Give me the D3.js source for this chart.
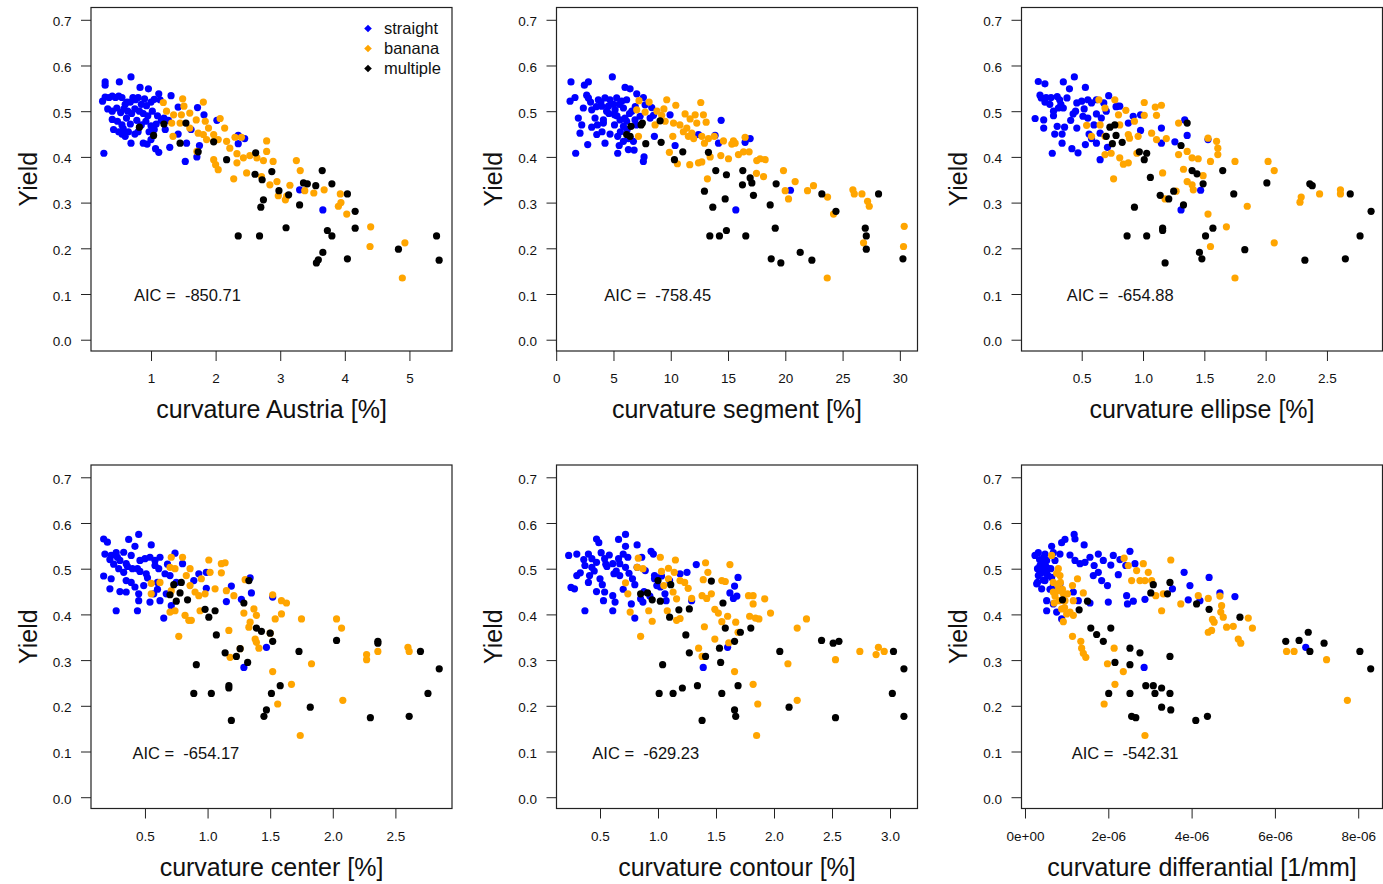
<html>
<head>
<script src="https://d3js.org/d3.v7.min.js"></script>
<style>
  body { margin: 0; background: #fff; }
  text { font-family: "Liberation Sans", Arial, sans-serif; fill: #111; }
</style>
</head>
<body>
<div id="chart"></div>
<script>
// categories and colours
var categories = ["straight", "banana", "multiple"];
var catColors = ["#0000ff", "#ffa500", "#000000"];
var yieldTicks = [0, 0.1, 0.2, 0.3, 0.4, 0.5, 0.6, 0.7];

// ---- curvature Austria [%] : [x, yield]
var austriaStraight = [[0.29,0.564],[0.29,0.557],[0.51,0.564],[0.69,0.575],[0.83,0.552],[0.96,0.549],[1.12,0.538],[1.31,0.534],
  [0.25,0.522],[0.29,0.531],[0.35,0.530],[0.40,0.533],[0.45,0.530],[0.50,0.533],[0.55,0.530],[0.60,0.515],[0.63,0.52],[0.68,0.52],[0.72,0.53],[0.76,0.525],[0.80,0.53],[0.85,0.515],[0.90,0.527],[0.93,0.512],[1.00,0.52],[1.05,0.526],[1.14,0.525],
  [0.33,0.505],[0.40,0.500],[0.47,0.507],[0.53,0.497],[0.58,0.505],[0.64,0.500],[0.70,0.495],[0.75,0.505],[0.82,0.500],[0.88,0.495],[0.95,0.49],[1.02,0.50],[1.10,0.49],[1.20,0.485],
  [0.40,0.482],[0.48,0.478],[0.55,0.47],[0.62,0.485],[0.68,0.472],[0.78,0.48],[0.85,0.47],[0.92,0.478],[1.00,0.468],[1.08,0.472],[1.16,0.48],[1.27,0.48],
  [0.42,0.46],[0.50,0.455],[0.57,0.462],[0.65,0.455],[0.75,0.45],[0.80,0.455],[0.97,0.455],[1.05,0.46],[1.22,0.46],
  [0.55,0.45],[0.60,0.445],[0.69,0.43],[0.88,0.43],[0.94,0.428],[1.00,0.438],[1.07,0.418],[1.12,0.41],[1.29,0.421],[1.42,0.45],[1.42,0.509],
  [1.53,0.39],[1.71,0.40],[1.75,0.425],[1.82,0.492],[1.72,0.508],[2.02,0.48],[2.35,0.447],[2.35,0.429],[2.45,0.44],[1.55,0.43],[1.62,0.46],
  [0.27,0.408],[3.30,0.328],[3.66,0.284]];
var austriaBanana = [[1.19,0.519],[1.49,0.527],[1.81,0.520],[1.51,0.511],[1.24,0.50],[1.35,0.492],[1.47,0.492],[1.60,0.496],[1.70,0.481],[1.84,0.478],
  [1.89,0.463],[1.97,0.449],[2.07,0.484],[2.14,0.463],[1.32,0.474],[1.34,0.445],[1.45,0.474],[1.60,0.463],[1.73,0.452],[1.81,0.449],
  [1.86,0.438],[1.97,0.434],[2.04,0.438],[2.17,0.434],[2.22,0.419],[2.30,0.443],[2.40,0.443],[2.79,0.435],[2.79,0.412],[1.71,0.412],
  [1.97,0.394],[2.00,0.383],[2.04,0.372],[2.33,0.407],[2.33,0.387],[2.43,0.398],[2.53,0.403],[2.64,0.398],[2.74,0.392],[2.89,0.39],
  [2.48,0.365],[2.28,0.352],[2.71,0.357],[2.84,0.339],[2.95,0.346],[3.15,0.338],[3.08,0.306],[3.25,0.392],[3.31,0.37],[3.38,0.326],
  [3.52,0.321],[3.68,0.328],[3.93,0.319],[3.90,0.292],[3.94,0.30],[4.03,0.275],[4.40,0.247],[4.39,0.204],[4.93,0.212],[4.89,0.135],
  [2.97,0.315],[3.10,0.314]];
var austriaMultiple = [[0.82,0.465],[1.04,0.447],[1.20,0.472],[1.45,0.430],[1.54,0.474],[1.73,0.411],[1.97,0.433],[2.17,0.394],[2.62,0.409],
  [2.87,0.368],[2.61,0.362],[2.72,0.350],[2.98,0.326],[3.13,0.317],[3.30,0.295],[3.36,0.343],[3.42,0.341],[3.55,0.337],[3.65,0.37],
  [3.80,0.341],[4.04,0.319],[4.16,0.281],[4.16,0.244],[3.73,0.239],[3.80,0.227],[4.04,0.177],[3.66,0.191],[3.59,0.175],[3.56,0.168],
  [3.09,0.245],[2.70,0.29],[2.74,0.306],[2.68,0.227],[2.35,0.227],[4.83,0.198],[5.42,0.227],[5.46,0.174]];

// ---- curvature segment [%]
var segmentStraight = [[1.29,0.564],[2.46,0.557],[2.81,0.564],[4.90,0.575],[6.01,0.552],[6.45,0.549],[1.21,0.522],[1.64,0.530],[2.66,0.535],
  [2.81,0.529],[3.68,0.525],[4.26,0.529],[4.70,0.525],[5.28,0.529],[5.72,0.522],[6.15,0.525],[7.03,0.538],[7.61,0.530],[7.76,0.514],
  [8.34,0.508],[2.37,0.507],[3.10,0.503],[3.97,0.511],[4.56,0.511],[5.14,0.503],[5.87,0.507],[6.60,0.50],[7.32,0.489],[8.20,0.485],
  [8.49,0.491],[1.93,0.485],[3.39,0.485],[4.12,0.481],[5.09,0.492],[5.57,0.481],[6.15,0.478],[6.88,0.481],[2.23,0.470],[3.10,0.465],
  [4.12,0.474],[5.09,0.470],[5.87,0.467],[2.08,0.452],[3.54,0.449],[5.37,0.445],[5.87,0.434],[6.45,0.441],[6.74,0.434],[2.75,0.427],
  [4.26,0.43],[6.30,0.416],[1.70,0.408],[5.37,0.408],[7.67,0.40],[7.61,0.39],[8.57,0.445],[10.38,0.425],[9.94,0.492],[13.87,0.447],
  [14.17,0.43],[14.40,0.48],[16.49,0.432],[16.93,0.44],[20.45,0.327],[15.68,0.284],[12.42,0.449],
  [3.5,0.51],[4.6,0.495],[5.5,0.515],[6.9,0.51],[4.0,0.455],[6.2,0.46],
  [3.0,0.52],[3.9,0.52],[4.4,0.50],[5.0,0.515],[5.3,0.49],[6.4,0.495],[6.0,0.485],[7.0,0.47],[3.6,0.47],[4.7,0.45],
  [5.6,0.455],[6.3,0.44],[6.8,0.415],[5.5,0.425]];
var segmentBanana = [[7.23,0.523],[8.11,0.52],[9.65,0.525],[10.44,0.513],[12.62,0.519],[7.03,0.503],[7.76,0.498],[8.63,0.47],[9.21,0.491],
  [9.51,0.478],[10.24,0.474],[11.25,0.494],[12.13,0.492],[11.69,0.483],[12.85,0.492],[13.09,0.476],[11.40,0.463],[11.84,0.452],[12.27,0.474],
  [11.54,0.445],[12.71,0.445],[13.29,0.44],[12.94,0.43],[10.18,0.445],[7.18,0.445],[9.88,0.41],[10.58,0.385],[11.66,0.383],[12.42,0.387],
  [12.71,0.389],[13.44,0.40],[14.37,0.403],[14.60,0.435],[15.47,0.435],[15.62,0.43],[15.04,0.396],[15.91,0.405],[16.35,0.411],[16.84,0.411],
  [17.51,0.392],[17.80,0.396],[18.24,0.394],[17.48,0.364],[18.10,0.357],[19.84,0.37],[13.20,0.352],[20.86,0.346],[19.99,0.326],[20.28,0.308],
  [21.94,0.326],[22.46,0.337],[23.69,0.312],[24.21,0.275],[25.90,0.328],[26.02,0.319],[26.69,0.319],[27.18,0.303],[27.33,0.292],[26.83,0.212],
  [30.38,0.248],[30.32,0.204],[23.66,0.135],[16.49,0.443],[15.33,0.428],
  [8.8,0.50],[9.4,0.505],[10.8,0.47],[11.1,0.455],[12.0,0.44],[13.8,0.445]];
var segmentMultiple = [[6.53,0.467],[6.15,0.449],[6.45,0.445],[7.41,0.470],[7.52,0.474],[7.82,0.429],[9.16,0.432],[9.07,0.479],[10.32,0.394],
  [11.05,0.411],[13.29,0.41],[13.93,0.37],[14.86,0.361],[16.29,0.37],[16.93,0.354],[17.08,0.343],[16.26,0.339],[17.22,0.316],[12.94,0.325],
  [14.75,0.308],[13.67,0.29],[18.68,0.295],[19.20,0.341],[23.19,0.319],[24.42,0.281],[28.14,0.319],[19.12,0.244],[13.41,0.227],[14.25,0.227],
  [14.86,0.239],[16.55,0.227],[18.77,0.177],[19.61,0.168],[21.30,0.191],[22.32,0.174],[26.98,0.244],[27.07,0.227],[27.07,0.198],[30.27,0.177]];

// ---- curvature ellipse [%]
var ellipseStraight = [[0.146,0.565],[0.20,0.56],[0.35,0.564],[0.44,0.575],[0.40,0.549],[0.53,0.552],[0.72,0.534],[0.16,0.535],[0.17,0.529],
  [0.21,0.530],[0.30,0.532],[0.32,0.525],[0.38,0.529],[0.46,0.518],[0.50,0.522],[0.55,0.525],[0.58,0.518],[0.62,0.525],[0.68,0.518],
  [0.79,0.511],[0.81,0.511],[0.12,0.484],[0.19,0.481],[0.27,0.50],[0.31,0.507],[0.35,0.507],[0.43,0.494],[0.51,0.489],[0.62,0.494],
  [0.66,0.485],[0.19,0.463],[0.30,0.467],[0.36,0.465],[0.46,0.463],[0.56,0.45],[0.65,0.452],[0.28,0.45],[0.34,0.45],[0.26,0.408],
  [0.34,0.43],[0.42,0.418],[0.47,0.409],[0.53,0.427],[0.62,0.43],[0.65,0.394],[0.71,0.421],[0.88,0.474],[0.92,0.489],[0.98,0.492],
  [0.98,0.458],[1.15,0.463],[1.15,0.43],[1.26,0.433],[1.34,0.481],[1.36,0.447],[1.53,0.438],[1.47,0.327],[1.31,0.284],[0.78,0.51],
  [0.24,0.515],[0.27,0.49],[0.41,0.48],[0.52,0.505],[0.60,0.47],
  [0.20,0.52],[0.25,0.53],[0.33,0.515],[0.45,0.50],[0.55,0.485],[0.70,0.50],[0.58,0.44]];
var ellipseBanana = [[0.64,0.525],[0.77,0.525],[1.01,0.519],[1.10,0.509],[1.15,0.513],[0.69,0.507],[0.86,0.502],[0.80,0.492],[0.93,0.478],
  [1.01,0.491],[1.11,0.491],[0.54,0.469],[0.65,0.47],[0.58,0.445],[0.69,0.445],[0.81,0.47],[0.88,0.449],[0.89,0.441],[0.96,0.445],
  [1.07,0.452],[1.11,0.438],[1.19,0.44],[1.29,0.474],[0.69,0.405],[0.74,0.408],[0.81,0.398],[0.84,0.384],[0.88,0.387],[0.95,0.408],
  [1.29,0.405],[1.36,0.412],[1.40,0.398],[1.45,0.396],[1.33,0.373],[1.36,0.346],[1.40,0.339],[1.41,0.328],[1.49,0.359],[1.16,0.365],
  [0.76,0.352],[1.53,0.441],[1.60,0.434],[1.61,0.419],[1.61,0.405],[1.55,0.39],[1.75,0.39],[2.02,0.39],[2.07,0.37],[1.27,0.325],
  [1.18,0.308],[1.53,0.275],[1.68,0.247],[1.85,0.292],[1.55,0.204],[2.07,0.212],[1.75,0.135],[2.29,0.312],[2.28,0.301],[2.44,0.319],
  [2.61,0.328],[2.61,0.319]];
var ellipseMultiple = [[0.73,0.465],[0.77,0.47],[0.70,0.445],[0.78,0.447],[0.75,0.429],[0.83,0.432],[0.97,0.411],[1.03,0.408],[1.01,0.394],
  [1.31,0.425],[1.36,0.474],[1.40,0.37],[1.44,0.363],[1.49,0.341],[1.06,0.355],[1.14,0.316],[1.25,0.325],[1.21,0.308],[1.33,0.295],
  [1.65,0.37],[1.74,0.319],[2.01,0.343],[2.36,0.341],[2.38,0.337],[2.69,0.319],[2.86,0.281],[2.77,0.227],[0.93,0.29],[0.87,0.227],
  [1.03,0.227],[1.16,0.244],[1.16,0.239],[1.57,0.244],[1.51,0.227],[1.46,0.191],[1.48,0.177],[1.18,0.168],[1.83,0.197],[2.32,0.174],[2.65,0.177]];

// ---- curvature center [%]
var centerStraight = [[0.17,0.565],[0.20,0.558],[0.37,0.564],[0.45,0.575],[0.42,0.549],[0.55,0.552],[0.74,0.534],[0.18,0.532],[0.23,0.529],
  [0.27,0.535],[0.33,0.536],[0.39,0.529],[0.30,0.518],[0.35,0.511],[0.46,0.518],[0.50,0.522],[0.54,0.525],[0.58,0.518],[0.62,0.525],
  [0.29,0.50],[0.33,0.492],[0.46,0.494],[0.51,0.489],[0.58,0.507],[0.61,0.50],[0.66,0.489],[0.70,0.485],[0.80,0.511],[0.17,0.484],
  [0.23,0.478],[0.35,0.474],[0.39,0.47],[0.22,0.456],[0.30,0.45],[0.35,0.449],[0.45,0.445],[0.49,0.463],[0.57,0.445],[0.67,0.445],
  [0.45,0.43],[0.54,0.427],[0.62,0.43],[0.71,0.419],[0.27,0.408],[0.44,0.408],[0.65,0.392],[0.89,0.474],[0.93,0.489],[0.99,0.492],
  [0.99,0.457],[1.15,0.428],[1.19,0.462],[1.27,0.433],[1.34,0.48],[1.35,0.447],[1.52,0.438],[1.47,0.328],[1.29,0.284],
  [0.25,0.51],[0.40,0.50],[0.42,0.46],[0.60,0.47],
  [0.22,0.52],[0.28,0.525],[0.36,0.505],[0.44,0.50],[0.52,0.48],[0.60,0.455],[0.68,0.51],[0.75,0.47]];
var centerBanana = [[0.71,0.525],[0.80,0.525],[1.01,0.519],[1.11,0.511],[1.14,0.513],[0.70,0.503],[0.74,0.50],[0.86,0.50],[0.83,0.485],
  [0.95,0.478],[1.02,0.492],[1.11,0.491],[0.55,0.468],[0.62,0.47],[0.55,0.445],[0.71,0.452],[0.86,0.463],[0.90,0.449],[0.93,0.441],
  [0.98,0.445],[1.06,0.456],[1.15,0.452],[1.21,0.441],[1.30,0.476],[0.70,0.405],[0.74,0.408],[0.82,0.398],[0.85,0.387],[0.87,0.387],
  [0.94,0.408],[1.29,0.403],[1.37,0.412],[1.39,0.398],[1.34,0.383],[1.33,0.372],[1.38,0.346],[1.39,0.339],[1.41,0.326],[1.50,0.359],
  [1.17,0.365],[0.77,0.352],[1.52,0.443],[1.59,0.43],[1.63,0.425],[1.59,0.401],[1.54,0.39],[1.75,0.39],[2.03,0.39],[2.07,0.37],
  [1.26,0.325],[1.18,0.306],[1.52,0.275],[1.67,0.247],[1.83,0.292],[1.56,0.204],[2.08,0.212],[1.74,0.135],[2.27,0.312],[2.27,0.301],
  [2.36,0.319],[2.60,0.328],[2.61,0.319]];
var centerMultiple = [[0.73,0.465],[0.79,0.47],[0.70,0.443],[0.78,0.447],[0.75,0.429],[0.84,0.432],[0.98,0.411],[1.06,0.408],[1.01,0.394],
  [1.29,0.425],[1.33,0.474],[1.39,0.37],[1.43,0.363],[1.50,0.359],[1.52,0.341],[1.07,0.355],[1.14,0.316],[1.26,0.325],[1.23,0.308],
  [1.32,0.295],[1.73,0.319],[2.03,0.343],[2.36,0.341],[2.36,0.337],[2.70,0.319],[2.85,0.281],[2.76,0.227],[0.91,0.29],[0.89,0.227],
  [1.03,0.227],[1.17,0.244],[1.17,0.239],[1.58,0.244],[1.51,0.227],[1.47,0.191],[1.45,0.177],[1.19,0.168],[1.82,0.197],[2.30,0.174],[2.61,0.177]];

// ---- curvature contour [%]
var contourStraight = [[0.47,0.565],[0.49,0.557],[0.66,0.564],[0.72,0.575],[0.72,0.549],[0.82,0.552],[0.94,0.538],[0.96,0.532],[0.23,0.529],
  [0.30,0.532],[0.40,0.532],[0.43,0.522],[0.51,0.535],[0.54,0.522],[0.47,0.514],[0.66,0.522],[0.70,0.532],[0.74,0.525],[0.86,0.525],
  [0.37,0.507],[0.43,0.503],[0.61,0.511],[0.67,0.511],[0.72,0.503],[0.82,0.503],[0.89,0.496],[0.33,0.491],[0.41,0.485],[0.50,0.478],
  [0.62,0.489],[0.67,0.485],[0.78,0.478],[0.97,0.485],[1.03,0.484],[0.30,0.485],[0.25,0.459],[0.28,0.456],[0.47,0.45],[0.54,0.449],
  [0.61,0.441],[0.53,0.43],[0.63,0.427],[0.37,0.408],[0.61,0.408],[0.80,0.392],[0.77,0.423],[0.87,0.427],[0.85,0.434],[0.97,0.478],
  [0.99,0.463],[1.06,0.445],[1.07,0.43],[1.10,0.474],[1.19,0.489],[1.25,0.492],[1.29,0.43],[1.33,0.509],[1.62,0.447],[1.66,0.462],
  [1.69,0.481],[1.65,0.435],[1.68,0.44],[1.60,0.328],[1.39,0.284],[0.45,0.495],[0.56,0.505],[0.40,0.47],
  [0.55,0.51],[0.58,0.53],[0.64,0.495],[0.75,0.49],[0.80,0.465],[0.88,0.45],[0.93,0.44],[0.70,0.455],[1.02,0.46],[0.36,0.52],[0.52,0.465]];
var contourBanana = [[0.83,0.523],[1.02,0.525],[1.15,0.519],[1.41,0.513],[1.62,0.509],[0.82,0.503],[0.87,0.50],[1.03,0.494],[1.09,0.501],
  [1.14,0.492],[1.09,0.478],[1.19,0.474],[1.23,0.47],[0.72,0.469],[0.74,0.445],[1.05,0.463],[1.13,0.449],[1.16,0.434],[1.26,0.457],
  [1.39,0.476],[1.43,0.492],[1.55,0.474],[1.58,0.472],[1.38,0.441],[1.42,0.435],[1.46,0.445],[1.78,0.441],[1.82,0.441],[1.82,0.423],
  [1.92,0.434],[0.76,0.405],[0.95,0.385],[1.08,0.408],[1.16,0.387],[1.19,0.391],[1.49,0.411],[1.52,0.403],[1.55,0.384],[1.60,0.396],
  [1.67,0.383],[1.79,0.396],[1.84,0.392],[1.87,0.39],[1.97,0.403],[2.28,0.39],[2.20,0.37],[1.40,0.373],[1.49,0.346],[1.61,0.338],
  [1.69,0.361],[0.85,0.352],[1.35,0.326],[1.38,0.308],[1.66,0.275],[1.82,0.247],[2.12,0.292],[1.86,0.204],[2.20,0.212],[1.85,0.135],
  [2.53,0.301],[2.74,0.319],[2.88,0.312],[2.90,0.328],[2.95,0.319],[0.92,0.408],[1.29,0.435]];
var contourMultiple = [[0.85,0.445],[0.91,0.447],[0.95,0.432],[1.02,0.429],[1.00,0.474],[1.11,0.465],[1.18,0.41],[1.27,0.412],[1.10,0.394],
  [1.46,0.473],[1.56,0.425],[1.58,0.37],[1.66,0.341],[1.71,0.361],[1.80,0.37],[1.24,0.355],[1.27,0.316],[1.41,0.308],[1.53,0.326],
  [1.54,0.295],[2.05,0.319],[2.41,0.343],[2.51,0.337],[2.56,0.341],[3.03,0.319],[3.12,0.281],[3.02,0.227],[1.04,0.29],[1.01,0.227],
  [1.13,0.227],[1.21,0.239],[1.34,0.244],[1.55,0.227],[1.69,0.244],[1.66,0.191],[1.67,0.177],[1.38,0.168],[2.13,0.197],[2.53,0.174],[3.12,0.177]];

// ---- curvature differantial [1/mm], x given in units of 1e-6
var diffStraight = [[0.24,0.529],[0.32,0.535],[0.64,0.549],[0.88,0.557],[0.96,0.564],[1.18,0.575],[1.20,0.565],[1.42,0.552],[0.48,0.532],
  [0.68,0.535],[0.84,0.532],[0.52,0.518],[0.72,0.518],[0.36,0.492],[0.44,0.496],[0.52,0.489],[0.32,0.485],[0.64,0.481],[0.48,0.474],
  [0.28,0.467],[0.40,0.456],[0.68,0.463],[0.84,0.467],[0.52,0.43],[0.68,0.423],[0.52,0.408],[0.76,0.405],[0.88,0.39],[1.16,0.449],
  [1.28,0.43],[1.56,0.425],[1.20,0.518],[1.32,0.511],[1.44,0.514],[1.56,0.525],[1.66,0.507],[1.76,0.532],[1.88,0.518],[2.06,0.508],
  [2.12,0.529],[2.28,0.52],[1.64,0.485],[1.76,0.492],[1.84,0.474],[1.98,0.463],[2.00,0.427],[2.24,0.487],[2.44,0.441],[2.46,0.423],
  [2.60,0.429],[2.42,0.507],[2.52,0.538],[2.64,0.511],[2.88,0.433],[3.54,0.456],[3.82,0.492],[3.96,0.463],[3.92,0.432],[4.20,0.43],
  [4.42,0.481],[4.68,0.447],[5.04,0.439],[6.74,0.328],[2.86,0.284],[1.08,0.53],[0.36,0.507],
  [0.30,0.50],[0.40,0.515],[0.56,0.50],[0.44,0.475],[0.60,0.455],
  [0.35,0.52],[0.45,0.525],[0.38,0.49],[0.50,0.505],[0.62,0.50],[0.30,0.47],[0.55,0.485]];
var diffBanana = [[0.64,0.529],[0.80,0.50],[0.84,0.485],[0.68,0.47],[0.80,0.452],[0.92,0.445],[1.14,0.463],[1.26,0.478],[1.40,0.447],
  [0.68,0.449],[1.16,0.43],[0.88,0.412],[1.00,0.401],[1.08,0.405],[1.16,0.398],[0.92,0.384],[1.14,0.352],[1.34,0.341],[1.36,0.326],
  [1.40,0.315],[1.46,0.306],[2.14,0.326],[1.98,0.292],[2.36,0.275],[2.16,0.247],[1.90,0.204],[2.88,0.135],[2.38,0.523],[2.48,0.507],
  [2.56,0.474],[2.68,0.496],[2.84,0.511],[2.96,0.492],[2.76,0.474],[2.88,0.474],[3.04,0.474],[3.14,0.441],[3.28,0.408],[3.32,0.445],
  [3.50,0.519],[3.74,0.423],[4.16,0.441],[4.40,0.435],[4.50,0.389],[4.54,0.383],[4.40,0.361],[4.48,0.365],[4.72,0.419],[4.70,0.405],
  [4.76,0.394],[4.84,0.372],[5.00,0.374],[5.12,0.346],[5.18,0.337],[5.36,0.392],[5.46,0.37],[6.28,0.319],[6.46,0.319],[7.24,0.301],
  [7.74,0.212],[4.68,0.44],[0.76,0.49],[0.72,0.44],[0.96,0.43],
  [0.85,0.47],[0.78,0.465],[0.90,0.455],[1.02,0.445],[0.70,0.425],[0.82,0.43],[0.95,0.415]];
var diffMultiple = [[0.90,0.432],[1.30,0.41],[1.50,0.429],[1.58,0.37],[1.72,0.356],[1.88,0.341],[2.06,0.37],[2.16,0.295],[2.52,0.326],
  [2.76,0.316],[2.52,0.29],[2.01,0.227],[2.52,0.227],[2.90,0.244],[3.08,0.244],[3.12,0.227],[3.28,0.239],[3.48,0.227],[3.28,0.197],
  [3.50,0.191],[2.56,0.177],[2.66,0.174],[4.10,0.168],[4.38,0.177],[3.48,0.308],[3.02,0.447],[3.08,0.465],[3.42,0.445],[3.48,0.47],
  [4.12,0.423],[4.42,0.411],[5.16,0.394],[6.26,0.341],[6.58,0.343],[6.80,0.361],[6.84,0.319],[7.18,0.337],[8.04,0.319],[8.30,0.281]];
var diffUnit = 1e-6;
var toDiff = function (arr) { return arr.map(function (d) { return [d[0] * diffUnit, d[1]]; }); };

var aicValues = ["-850.71", "-758.45", "-654.88", "-654.17", "-629.23", "-542.31"];

var panels = [
  { title: "curvature Austria [%]", domain: [0.071, 5.659], ticks: [1, 2, 3, 4, 5], fmt: d3.format("d"), aicX: 0.737,
    series: [austriaStraight, austriaBanana, austriaMultiple] },
  { title: "curvature segment [%]", domain: [0.026, 31.54], ticks: [0, 5, 10, 15, 20, 25, 30], fmt: d3.format("d"), aicX: 4.2,
    series: [segmentStraight, segmentBanana, segmentMultiple] },
  { title: "curvature ellipse [%]", domain: [0.009, 2.953], ticks: [0.5, 1.0, 1.5, 2.0, 2.5], fmt: d3.format(".1f"), aicX: 0.378,
    series: [ellipseStraight, ellipseBanana, ellipseMultiple] },
  { title: "curvature center [%]", domain: [0.069, 2.952], ticks: [0.5, 1.0, 1.5, 2.0, 2.5], fmt: d3.format(".1f"), aicX: 0.40,
    series: [centerStraight, centerBanana, centerMultiple] },
  { title: "curvature contour [%]", domain: [0.125, 3.237], ticks: [0.5, 1.0, 1.5, 2.0, 2.5, 3.0], fmt: d3.format(".1f"), aicX: 0.434,
    series: [contourStraight, contourBanana, contourMultiple] },
  { title: "curvature differantial [1/mm]", domain: [-0.084e-6, 8.583e-6], ticks: [0, 2e-6, 4e-6, 6e-6, 8e-6],
    fmt: function (d) { return d === 0 ? "0e+00" : Math.round(d / diffUnit) + "e-06"; }, aicX: 1.12e-6,
    series: [toDiff(diffStraight), toDiff(diffBanana), toDiff(diffMultiple)] }
];

var width = 1383, height = 884;
var colLeft = [91, 556.5, 1021.5], boxW = 361;
var rowTop = [7.5, 465], boxH = 343.5;

var svg = d3.select("#chart").append("svg")
  .attr("width", width).attr("height", height);
svg.append("rect").attr("width", width).attr("height", height).attr("fill", "#fff");

panels.forEach(function (p, i) {
  var x0 = colLeft[i % 3], y0 = rowTop[Math.floor(i / 3)];
  var g = svg.append("g").attr("transform", `translate(${x0},${y0})`);
  var xScale = d3.scaleLinear().domain(p.domain).range([0, boxW]);
  var yScale = d3.scaleLinear().domain([-0.0247, 0.7269]).range([boxH, 0]);

  // points
  p.series.forEach(function (s, k) {
    g.append("g").selectAll("circle")
      .data(s).enter().append("circle")
      .attr("cx", d => xScale(d[0]))
      .attr("cy", d => yScale(d[1]))
      .attr("r", 3.6)
      .attr("fill", catColors[k]);
  });

  // axes
  var xAxis = g.append("g").attr("transform", `translate(0,${boxH})`)
    .call(d3.axisBottom(xScale).tickValues(p.ticks).tickFormat(p.fmt).tickSize(10).tickSizeOuter(0).tickPadding(12.5));
  var yAxis = g.append("g")
    .call(d3.axisLeft(yScale).tickValues(yieldTicks).tickFormat(d3.format(".1f")).tickSize(10).tickSizeOuter(0).tickPadding(9.5));
  [xAxis, yAxis].forEach(function (a) {
    a.select(".domain").remove();
    a.selectAll("line").attr("stroke", "#222");
    a.selectAll("text").style("font-size", "13.5px").attr("fill", "#222");
  });
  yAxis.selectAll("text").attr("dy", "0.45em");

  // box
  g.append("rect").attr("width", boxW).attr("height", boxH)
    .attr("fill", "none").attr("stroke", "#222").attr("stroke-width", 1.2);

  // titles
  g.append("text").attr("x", boxW / 2).attr("y", boxH + 67)
    .attr("text-anchor", "middle").style("font-size", "25px").text(p.title);
  g.append("text").attr("transform", `translate(-54.5,${boxH / 2}) rotate(-90)`)
    .attr("text-anchor", "middle").style("font-size", "25px").text("Yield");

  // AIC
  g.append("text").attr("x", xScale(p.aicX)).attr("y", yScale(0.097))
    .attr("dy", "0.36em").style("font-size", "16.5px").attr("fill", "#222")
    .attr("xml:space", "preserve").text("AIC =  " + aicValues[i]);

  // legend in first panel
  if (i === 0) {
    var lg = g.append("g").attr("transform", "translate(277,21)");
    categories.forEach(function (c, k) {
      var row = lg.append("g").attr("transform", `translate(0,${k * 20})`);
      row.append("path").attr("d", "M0,-3.8L3.8,0L0,3.8L-3.8,0Z").attr("fill", catColors[k]);
      row.append("text").attr("x", 16).attr("dy", "0.35em").style("font-size", "16.5px").attr("fill", "#222").text(c);
    });
  }
});
</script>
</body>
</html>
